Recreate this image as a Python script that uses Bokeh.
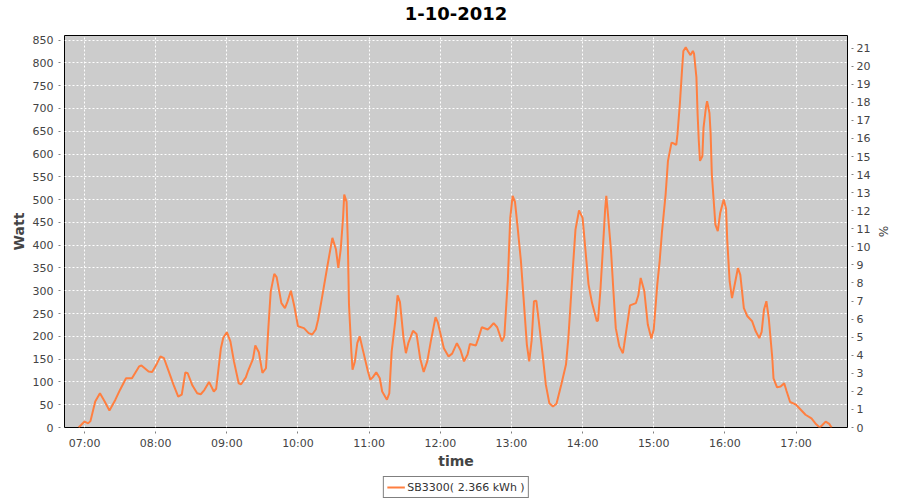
import pandas as pd
from bokeh.plotting import figure
from bokeh.layouts import column
from bokeh.models import (ColumnDataSource, Range1d, LinearAxis, FixedTicker,
                          DatetimeTickFormatter, Legend, LegendItem, Label)
from bokeh.embed import file_html
from bokeh.resources import INLINE

chart_title = "1-10-2012"
day = "2012-10-01"
series_name = "SB3300( 2.366 kWh )"
x_label = "time"
y_label = "Watt"
y2_label = "%"

times = [
    "06:55", "07:00", "07:03", "07:05", "07:09", "07:13", "07:17", "07:21", "07:26", "07:30",
    "07:35", "07:40", "07:46", "07:48", "07:54", "07:57", "08:01", "08:04", "08:07", "08:11",
    "08:15", "08:19", "08:22", "08:25", "08:27", "08:31", "08:35", "08:38", "08:41", "08:45",
    "08:49", "08:51", "08:55", "08:57", "09:00", "09:03", "09:06", "09:10", "09:12", "09:16",
    "09:18", "09:22", "09:24", "09:27", "09:30", "09:33", "09:35", "09:37", "09:40", "09:42",
    "09:46", "09:49", "09:51", "09:54", "09:57", "10:00", "10:05", "10:09", "10:12", "10:15",
    "10:17", "10:20", "10:25", "10:29", "10:32", "10:34", "10:36", "10:38", "10:39", "10:41",
    "10:42", "10:43", "10:45", "10:46", "10:48", "10:50", "10:52", "10:55", "10:59", "11:01",
    "11:03", "11:06", "11:09", "11:11", "11:15", "11:17", "11:19", "11:22", "11:24", "11:26",
    "11:29", "11:31", "11:33", "11:37", "11:40", "11:43", "11:46", "11:49", "11:52", "11:56",
    "11:58", "12:03", "12:07", "12:10", "12:14", "12:17", "12:20", "12:23", "12:25", "12:30",
    "12:32", "12:35", "12:40", "12:42", "12:45", "12:48", "12:52", "12:54", "12:57", "12:59",
    "13:01", "13:03", "13:05", "13:08", "13:10", "13:13", "13:15", "13:17", "13:19", "13:21",
    "13:23", "13:26", "13:29", "13:32", "13:35", "13:38", "13:42", "13:46", "13:48", "13:52",
    "13:54", "13:57", "14:00", "14:03", "14:05", "14:08", "14:12", "14:13", "14:15", "14:17",
    "14:19", "14:20", "14:21", "14:24", "14:26", "14:28", "14:31", "14:34", "14:35", "14:38",
    "14:40", "14:45", "14:47", "14:49", "14:52", "14:55", "14:58", "15:00", "15:03", "15:05",
    "15:07", "15:10", "15:12", "15:15", "15:17", "15:19", "15:20", "15:22", "15:24", "15:25",
    "15:27", "15:29", "15:31", "15:33", "15:34", "15:36", "15:37", "15:38", "15:39", "15:41",
    "15:42", "15:44", "15:45", "15:47", "15:48", "15:49", "15:51", "15:52", "15:54", "15:56",
    "15:59", "16:01", "16:02", "16:04", "16:06", "16:08", "16:11", "16:13", "16:16", "16:19",
    "16:23", "16:26", "16:29", "16:31", "16:33", "16:35", "16:37", "16:40", "16:41", "16:44",
    "16:47", "16:50", "16:52", "16:55", "17:00", "17:04", "17:08", "17:13", "17:17", "17:20",
    "17:22", "17:25", "17:28", "17:30",
]
watts = [
    0, 13, 9, 14, 57, 75, 57, 37, 61, 83,
    108, 108, 134, 136, 123, 122, 140, 156, 152, 123,
    94, 68, 72, 121, 119, 92, 75, 73, 82, 100,
    79, 85, 174, 197, 209, 189, 145, 97, 95, 110,
    125, 150, 180, 165, 120, 130, 218, 298, 337, 330,
    273, 262, 275, 300, 265, 222, 218, 207, 204, 215,
    237, 281, 357, 416, 391, 350, 390, 460, 511, 495,
    409, 270, 167, 127, 145, 185, 200, 167, 123, 105,
    110, 121, 108, 79, 61, 75, 167, 233, 290, 275,
    196, 163, 185, 212, 205, 152, 122, 145, 189, 242,
    230, 174, 156, 162, 185, 170, 145, 160, 183, 180,
    195, 220, 215, 220, 229, 220, 189, 200, 325, 460,
    508, 495, 445, 365, 292, 182, 145, 190, 277, 278,
    235, 167, 94, 53, 46, 52, 94, 138, 196, 357,
    434, 476, 460, 372, 314, 273, 233, 235, 300, 387,
    478, 508, 480, 387, 299, 218, 178, 163, 180, 233,
    268, 273, 290, 328, 300, 226, 195, 215, 314, 365,
    431, 511, 585, 625, 623, 620, 643, 709, 790, 826,
    834, 825, 817, 826, 820, 768, 687, 629, 585, 595,
    658, 702, 716, 690, 643, 555, 482, 445, 431, 470,
    500, 480, 410, 321, 284, 310, 350, 335, 262, 244,
    233, 211, 196, 210, 259, 277, 240, 152, 108, 88,
    90, 97, 80, 56, 50, 39, 28, 20, 7, 0,
    5, 13, 8, 0,
]
hour_ticks = ["07:00", "08:00", "09:00", "10:00", "11:00", "12:00",
              "13:00", "14:00", "15:00", "16:00", "17:00"]
watt_ticks = [0, 50, 100, 150, 200, 250, 300, 350, 400, 450, 500,
              550, 600, 650, 700, 750, 800, 850]
pct_ticks = [0, 1, 2, 3, 4, 5, 6, 7, 8, 9, 10, 11, 12, 13, 14, 15,
             16, 17, 18, 19, 20, 21]

LINE_COLOR = "#FF7F40"


def ms(t):
    return pd.Timestamp(f"{day} {t}").timestamp() * 1000.0


def blank_fig(h):
    f = figure(width=900, height=h, output_backend="svg", toolbar_location=None,
               x_range=Range1d(0, 900), y_range=Range1d(0, h),
               x_axis_location=None, y_axis_location=None,
               min_border=0, border_fill_color="white", background_fill_color="white")
    f.outline_line_color = None
    f.grid.visible = False
    return f


# ---- title strip
pt = blank_fig(27)
pt.add_layout(Label(x=450, y=14, text=chart_title, text_align="center",
                    text_baseline="middle", text_font="DejaVu Sans",
                    text_font_size="18px", text_font_style="bold", text_color="black"))

# ---- main chart
src = ColumnDataSource(dict(x=pd.to_datetime([f"{day} {t}" for t in times]), w=watts))

p = figure(frame_width=783, frame_height=392, output_backend="svg", toolbar_location=None,
           x_axis_type="datetime",
           x_range=Range1d(ms("06:43:06"), ms("17:43:24")),
           y_range=Range1d(0, 860),
           min_border_left=64, min_border_right=53,
           min_border_top=8, min_border_bottom=47,
           background_fill_color="#CCCCCC", border_fill_color="white")
p.extra_y_ranges = {"pct": Range1d(0, 21.7)}

r = p.line("x", "w", source=src, line_color=LINE_COLOR, line_width=2)

p.outline_line_color = "black"
p.outline_line_width = 1

xt = FixedTicker(ticks=[ms(t) for t in hour_ticks])
p.xaxis.ticker = xt
p.xaxis.formatter = DatetimeTickFormatter(hours="%H:%M", hourmin="%H:%M", minutes="%H:%M",
                                          minsec="%H:%M", days="%H:%M", context=None)
p.yaxis.ticker = FixedTicker(ticks=watt_ticks)

right = LinearAxis(y_range_name="pct", ticker=FixedTicker(ticks=pct_ticks))
p.add_layout(right, "right")

p.xaxis.axis_label = x_label
p.yaxis.axis_label = y_label
right.axis_label = y2_label

for ax in [p.xaxis[0], p.yaxis[0], right]:
    ax.axis_line_color = None
    ax.major_tick_line_color = "#808080"
    ax.major_tick_in = -4
    ax.major_tick_out = 6
    ax.minor_tick_line_color = None
    ax.major_label_text_font = "DejaVu Sans"
    ax.major_label_text_font_size = "11px"
    ax.major_label_text_color = "#444444"
    ax.axis_label_text_font = "DejaVu Sans"
    ax.axis_label_text_color = "#444444"
    ax.axis_label_text_font_style = "bold"
    ax.axis_label_text_font_size = "14px"

p.yaxis.major_label_standoff = 5
p.yaxis.axis_label_standoff = 3
right.major_label_standoff = 3
right.axis_label_standoff = 3
right.axis_label_text_font_style = "normal"
right.axis_label_text_font_size = "12px"
p.xaxis.major_label_standoff = 3
p.xaxis.axis_label_standoff = 0

p.xgrid.ticker = xt
for g in [p.xgrid[0], p.ygrid[0]]:
    g.grid_line_color = "white"
    g.grid_line_dash = "2 2"
    g.grid_line_width = 1

# ---- legend strip (the series is drawn off-range here; only its legend swatch shows)
pl = blank_fig(26)
swatch = pl.line("x", "w", source=src, line_color=LINE_COLOR, line_width=2)
legend = Legend(items=[LegendItem(label=series_name, renderers=[swatch])],
                location="center", orientation="horizontal",
                border_line_color="black", border_line_width=1,
                background_fill_color="white", padding=3, margin=0,
                label_text_font="DejaVu Sans", label_text_font_size="11px",
                label_text_color="#333333", glyph_width=18, glyph_height=14,
                label_standoff=3, label_height=14)
pl.add_layout(legend, "center")

layout = column(pt, p, pl, spacing=0)
open("out.html", "w").write(file_html(layout, INLINE))
